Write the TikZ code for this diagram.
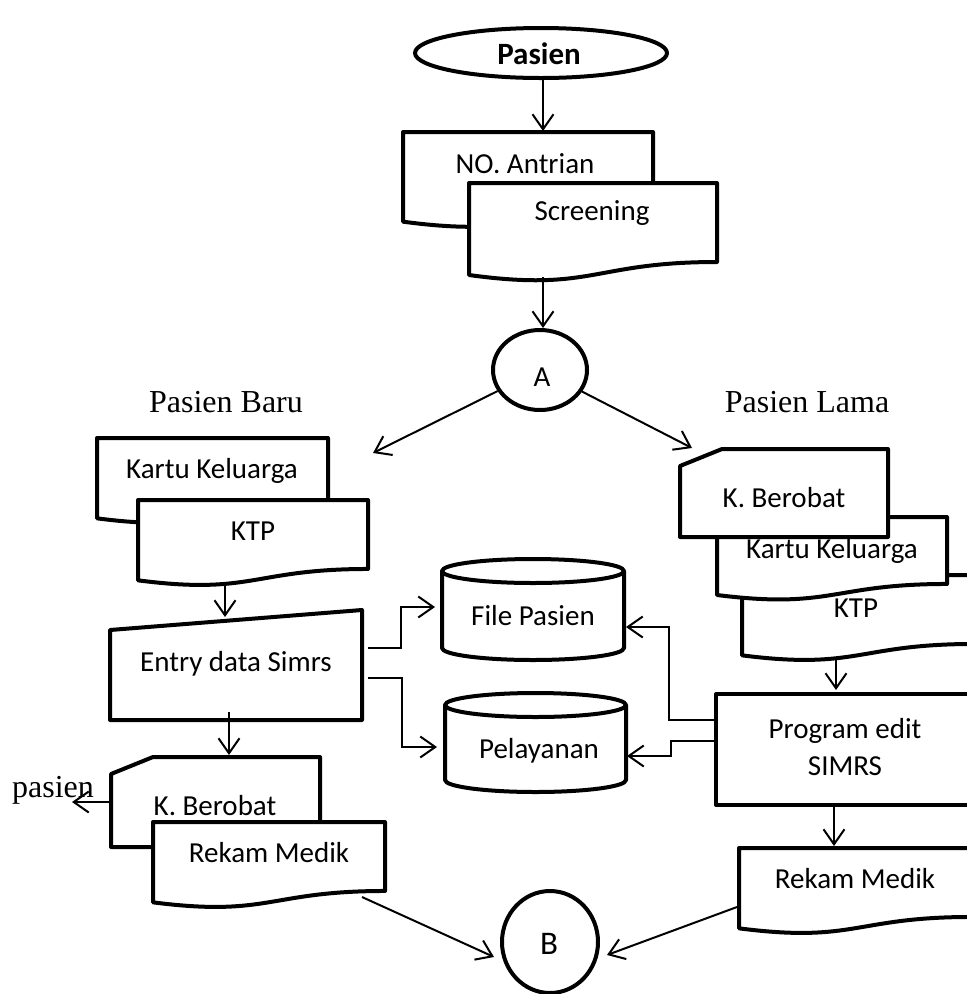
\documentclass[tikz,border=0pt]{standalone}
\usepackage{fontspec}
\setmainfont{Carlito}
\newfontfamily\timesf{Liberation Serif}
\usetikzlibrary{arrows.meta,shapes.geometric}
\tikzset{
  shp/.style={draw=black, fill=white, line width=4pt, line join=round},
  conn/.style={draw=black, line width=2pt, -{Straight Barb[length=15pt,width=21pt]}},
  lab/.style={anchor=base, inner sep=0pt, font=\fontsize{29}{34}\selectfont},
  boldlab/.style={anchor=base, inner sep=0pt, font=\fontsize{31}{36}\selectfont\bfseries},
  serif/.style={anchor=base, inner sep=0pt, font=\timesf\fontsize{32}{38}\selectfont},
}
% document shape: name, x, y(top), w, h
\newcommand\docshape[5]{%
  \filldraw[shp] (#2,#3) -- ({#2+#4},#3) -- ({#2+#4},{#3+0.802*#5})
    .. controls ({#2+#4/2},{#3+0.802*#5}) and ({#2+#4/2},{#3+1.1075*#5}) .. (#2,{#3+0.934*#5}) -- cycle;
  \coordinate (#1) at ({#2+#4/2},{#3+#5/2});}
% punched card shape: name, x, y, w, h
\newcommand\cardshape[5]{%
  \filldraw[shp] (#2,{#3+17}) -- ({#2+42},#3) -- ({#2+#4},#3) -- ({#2+#4},{#3+#5}) -- (#2,{#3+#5}) -- cycle;
  \coordinate (#1) at ({#2+#4/2},{#3+#5/2});}
% cylinder: name, x, y(top), w, h
\newcommand\cylshape[5]{%
  \pgfmathsetmacro\cx{#2+#4/2}\pgfmathsetmacro\kx{0.5523*#4/2}%
  \pgfmathsetmacro\ct{#3+12}\pgfmathsetmacro\cb{#3+#5-12}%
  \filldraw[shp] (#2,\ct) -- (#2,\cb)
    .. controls (#2,{\cb+6.6}) and ({\cx-\kx},{\cb+12}) .. (\cx,{\cb+12})
    .. controls ({\cx+\kx},{\cb+12}) and ({#2+#4},{\cb+6.6}) .. ({#2+#4},\cb)
    -- ({#2+#4},\ct)
    .. controls ({#2+#4},{\ct-6.6}) and ({\cx+\kx},{\ct-12}) .. (\cx,{\ct-12})
    .. controls ({\cx-\kx},{\ct-12}) and (#2,{\ct-6.6}) .. (#2,\ct) -- cycle;
  \draw[shp, fill=none] (#2,\ct)
    .. controls (#2,{\ct+6.6}) and ({\cx-\kx},{\ct+12}) .. (\cx,{\ct+12})
    .. controls ({\cx+\kx},{\ct+12}) and ({#2+#4},{\ct+6.6}) .. ({#2+#4},\ct);
  \coordinate (#1) at (\cx,{#3+#5/2});}
\begin{document}
\begin{tikzpicture}[x=1pt,y=-1pt]
\clip (0,0) rectangle (967,994);

% ---------- top ----------
\node[shp, ellipse, minimum width=252, minimum height=50, inner sep=0] (pasien) at (541,53) {};
\node[boldlab] (tpasien) at (539,64) {Pasien};

\docshape{noA}{403}{132}{250}{96}
\node[lab] (tnoA) at (525,173) {NO. Antrian};
\docshape{scr}{469}{183}{248}{98.5}
\node[lab] (tscr) at (592,220) {Screening};

\node[shp, ellipse, minimum width=94, minimum height=80, inner sep=0] (A) at (540,370) {};
\node[lab] (tA) at (542,386) {A};

\node[serif] (baru) at (226,412) {Pasien Baru};
\node[serif] (lama) at (807,412) {Pasien Lama};

% ---------- left column ----------
\docshape{kkL}{97}{438}{231}{86}
\node[lab] (tkkL) at (212,478) {Kartu Keluarga};
\docshape{ktpL}{138}{500}{230}{86}
\node[lab] (tktpL) at (253,540) {KTP};

\filldraw[shp] (110,630) -- (362,610) -- (362,720) -- (110,720) -- cycle;
\coordinate (entry) at (236,665);
\node[lab] (tentry) at (236,671) {Entry data Simrs};

\cardshape{kbL}{111}{757}{209}{90}
\node[lab] (tkbL) at (215,815) {K. Berobat};
\docshape{rmL}{153}{822}{232}{86}
\node[lab] (trmL) at (269,862) {Rekam Medik};

\node[serif] (pout) at (53,797) {pasien};

% ---------- middle ----------
\cylshape{fp}{442}{559}{182}{101}
\node[lab] (tfp) at (533,625) {File Pasien};
\cylshape{pel}{445}{693}{181}{99}
\node[lab] (tpel) at (539,758) {Pelayanan};

% ---------- right column ----------
\docshape{ktpR}{742}{575}{232}{86}
\node[lab] (tktpR) at (856,617) {KTP};
\docshape{kkR}{717}{517}{230}{83.5}
\node[lab] (tkkR) at (832,558) {Kartu Keluarga};
\cardshape{kbR}{680}{449}{208}{88}
\node[lab] (tkbR) at (784,507) {K. Berobat};

\node[shp, rectangle, minimum width=266, minimum height=111, anchor=north west, inner sep=0] (prog) at (714,692) {};
\node[lab] (tprog1) at (845,738) {Program edit};
\node[lab] (tprog2) at (845,775) {SIMRS};

\docshape{rmR}{739}{848}{232}{86}
\node[lab] (trmR) at (855,888) {Rekam Medik};

\node[shp, ellipse, minimum width=96, minimum height=102, inner sep=0] (B) at (550,942) {};
\node[lab, font=\fontsize{33}{38}\selectfont] (tB) at (549,954) {B};

% ---------- connector end points ----------
\coordinate (noA-in) at (543,131);
\coordinate (scr-out) at (543,277);
\coordinate (baru-in) at (373,453);
\coordinate (lama-in) at (692,448);
\coordinate (ktpL-out) at (225,585);
\coordinate (entry-in) at (225,617);
\coordinate (entry-o1) at (368,648);
\coordinate (entry-o2) at (368,678);
\coordinate (fp-inL) at (435,607);
\coordinate (pel-inL) at (437,747);
\coordinate (entry-o3) at (229,712);
\coordinate (kbL-in) at (229,755);
\coordinate (kbL-out) at (111,802);
\coordinate (pout-in) at (72,802);
\coordinate (rmL-out) at (362,897);
\coordinate (B-inL) at (494,957);
\coordinate (ktpR-out) at (836,660);
\coordinate (prog-in) at (836,690);
\coordinate (prog-o1) at (714,720);
\coordinate (prog-o2) at (714,741);
\coordinate (fp-inR) at (626,627);
\coordinate (pel-inR) at (627,756);
\coordinate (prog-o3) at (834,803);
\coordinate (rmR-in) at (834,846);
\coordinate (rmR-out) at (737,907);
\coordinate (B-inR) at (607,955);

% ---------- connectors ----------
\draw[conn] (pasien.south -| noA-in) -- (noA-in);
\draw[conn] (scr-out) -- (scr-out |- A.north);
\draw[conn] (A) -- (baru-in);
\draw[conn] (A) -- (lama-in);
\draw[conn] (ktpL-out) -- (entry-in);
\draw[conn] (entry-o1) -- (401,648) -- (401,607) -- (fp-inL);
\draw[conn] (entry-o2) -- (402,678) -- (402,747) -- (pel-inL);
\draw[conn] (entry-o3) -- (kbL-in);
\draw[conn] (kbL-out) -- (pout-in);
\draw[conn] (rmL-out) -- (B-inL);
\draw[conn] (ktpR-out) -- (prog-in);
\draw[conn] (prog-o1) -- (669,720) -- (669,627) -- (fp-inR);
\draw[conn] (prog-o2) -- (671,741) -- (671,756) -- (pel-inR);
\draw[conn] (prog-o3) -- (rmR-in);
\draw[conn] (rmR-out) -- (B-inR);
\end{tikzpicture}
\end{document}
